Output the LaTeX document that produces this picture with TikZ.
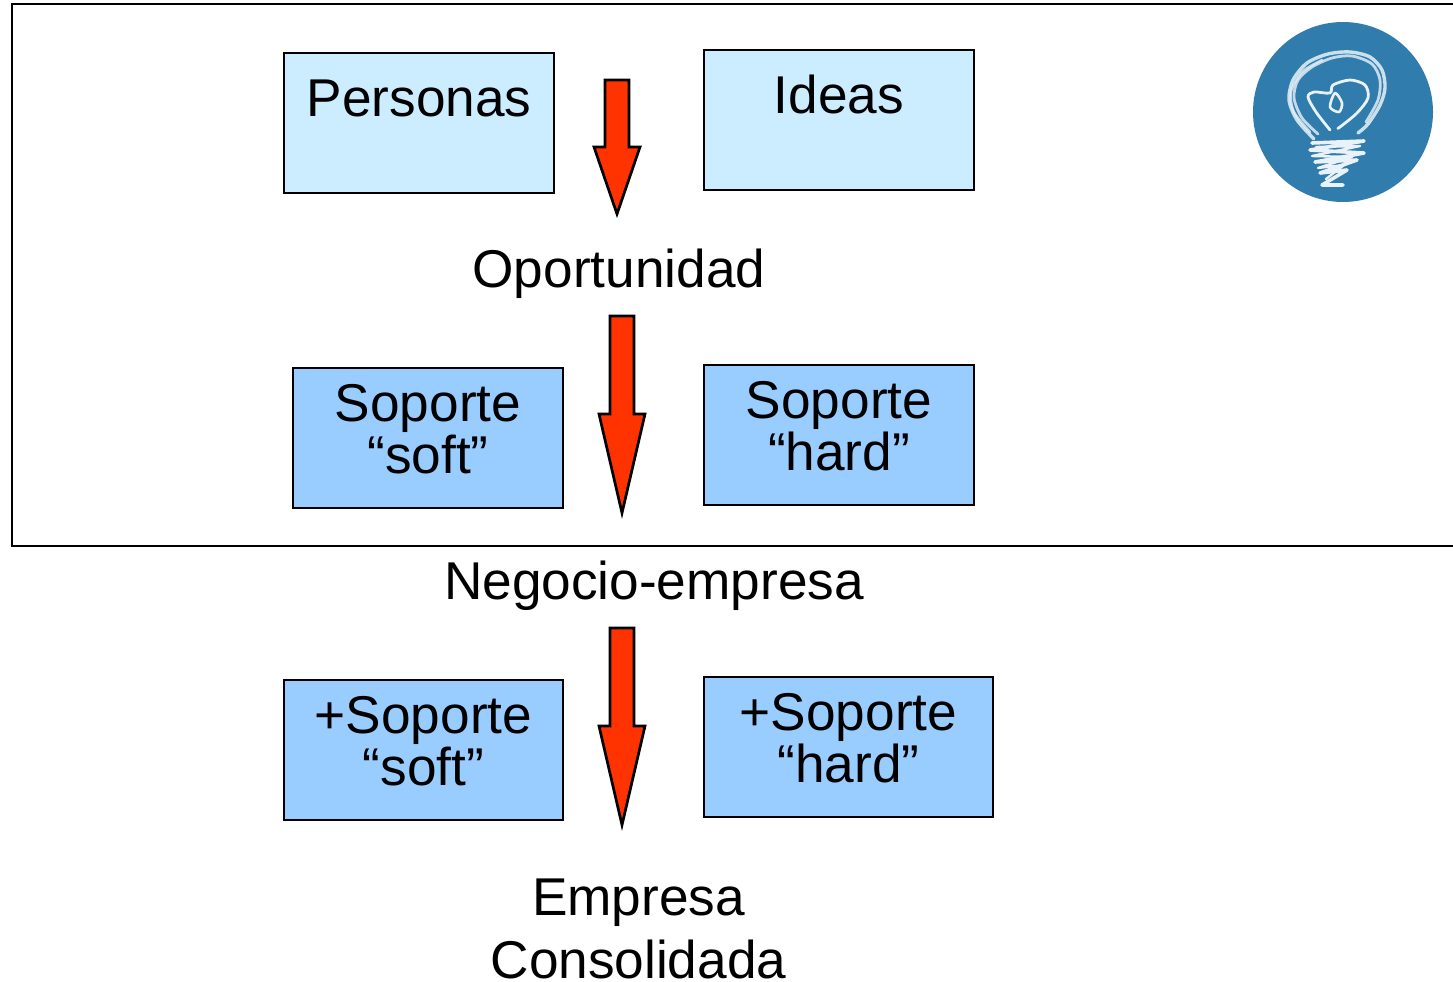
\documentclass[tikz,border=0pt]{standalone}
\usepackage{fontspec}
\setmainfont{Liberation Sans}
\definecolor{lightbox}{HTML}{CCECFF}
\definecolor{midbox}{HTML}{99CCFF}
\definecolor{arrowred}{HTML}{FF3300}
\definecolor{bulbblue}{HTML}{2F7CAD}
\definecolor{sketchwhite}{HTML}{E8F2F8}
\tikzset{
  x=1pt,y=-1pt,
  linew/.style={line width=2.7pt,draw=black},
  boxbase/.style={linew,rectangle,anchor=north west,inner sep=0pt,outer sep=0pt,align=center,
    font=\fontsize{53.2}{52}\selectfont,text height=#1},
  lightnode/.style={boxbase=63pt,fill=lightbox,text width=270pt,minimum height=140pt,text depth=77pt},
  softnode/.style={boxbase=53pt,fill=midbox,minimum height=140pt,text depth=87pt},
  blockarrow/.style={linew,fill=arrowred,line join=miter},
  caption/.style={anchor=base,inner sep=0pt,font=\fontsize{53.2}{53}\selectfont},
  sketch/.style={draw=sketchwhite,line width=#1,line cap=round,line join=round},
  sketch/.default=1.6pt
}
\begin{document}
\begin{tikzpicture}
\useasboundingbox (0,0) rectangle (1453,982);
% frame, open past the right edge
\coordinate (frameTR) at (1460,4);
\coordinate (frameBR) at (1460,546);
\draw[linew] (frameTR) -- (12,4) -- (12,546) -- (frameBR);

% boxes
\node[lightnode] (personas) at (284,53) {Personas};
\node[lightnode] (ideas) at (704,50) {Ideas};
\node[softnode,text width=270pt] (soft) at (293,368) {Soporte\\“soft”};
\node[softnode,text width=270pt] (hard) at (704,365) {Soporte\\“hard”};
\node[softnode,text width=279pt] (softplus) at (284,680) {+Soporte\\“soft”};
\node[softnode,text width=289pt] (hardplus) at (704,677) {+Soporte\\“hard”};

% captions
\node[caption] (oportunidad) at (619,287) {Oportunidad};
\node[caption] (negocio) at (654,599) {Negocio-empresa};
\node[caption] (empresa) at (638.5,915) {Empresa};
\node[caption] (consolidada) at (638.5,978) {Consolidada};

% block arrows
\draw[blockarrow] (605,80) -- (629,80) -- (629,147) -- (640,147) -- (617,214) -- (594,147) -- (605,147) -- cycle;
\draw[blockarrow] (610,316) -- (634,316) -- (634,414) -- (645,414) -- (622,513) -- (599,414) -- (610,414) -- cycle;
\draw[blockarrow] (610,628) -- (634,628) -- (634,726) -- (645,726) -- (622,825) -- (599,726) -- (610,726) -- cycle;

% light bulb badge
\fill[bulbblue] (1343,112) circle[radius=90];
\draw[sketch=3.4pt,opacity=.85] plot[smooth] coordinates {(1314,139) (1297,120) (1289,100) (1293,80) (1307,63) (1328,54) (1350,52) (1370,57) (1382,70) (1385,88) (1380,105) (1368,124) (1358,133)};
\draw[sketch=2.8pt,opacity=.8] plot[smooth] coordinates {(1318,134) (1302,118) (1294,98) (1298,80) (1312,67) (1332,58) (1352,56) (1372,64) (1380,80) (1378,100) (1366,122)};
\draw[sketch=2.4pt,opacity=.8] plot[smooth] coordinates {(1310,132) (1294,112) (1291,92) (1302,72) (1322,60)};
\draw[sketch=2.8pt] plot[smooth] coordinates {(1330,130) (1316,112) (1308,97) (1314,92) (1330,93) (1333,85) (1350,80) (1365,85) (1368,98) (1357,113) (1340,127) (1338,128)};
\draw[sketch=2.6pt] plot[smooth cycle] coordinates {(1335,93) (1330,107) (1339,112) (1342,103)};
\draw[sketch=3.6pt] (1312,143) -- (1364,141) -- (1310,150) -- (1364,153) -- (1315,162) -- (1357,160) -- (1320,173) -- (1347,170) -- (1322,185) -- (1343,185);
\draw[sketch=2.4pt] (1316,147) -- (1360,146) -- (1312,156) -- (1352,157) -- (1318,168) -- (1344,165) -- (1326,179);
\end{tikzpicture}
\end{document}
